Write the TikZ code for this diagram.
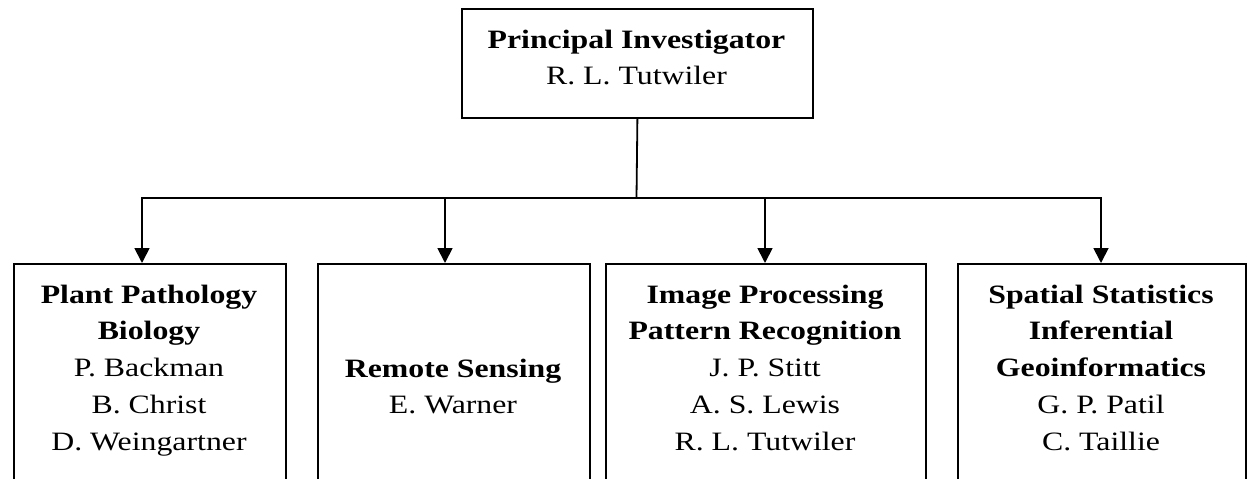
\documentclass[tikz,border=0pt]{standalone}
\usepackage{fontspec}
\setmainfont{Liberation Serif}[FakeStretch=1.2]
\usetikzlibrary{arrows.meta}
\begin{document}
\begin{tikzpicture}[x=1pt,y=-1pt,
  box/.style={draw, line width=1.8pt, rectangle, inner sep=0pt, anchor=north west},
  lbl/.style={anchor=base, inner sep=0pt, font=\fontsize{26.5}{36.8}\selectfont},
  conn/.style={line width=1.8pt},
  tip/.tip={Triangle[width=15pt,length=15pt]},
  arr/.style={conn, -tip}]
\useasboundingbox (0,0) rectangle (1248,479);
\clip (0,0) rectangle (1248,479);
% boxes
\node[box, minimum width=351pt, minimum height=109pt] (pi) at (461,8) {};
\node[box, minimum width=272pt, minimum height=240pt] (b1) at (13,263) {};
\node[box, minimum width=272pt, minimum height=240pt] (b2) at (317,263) {};
\node[box, minimum width=320pt, minimum height=240pt] (b3) at (605,263) {};
\node[box, minimum width=288pt, minimum height=240pt] (b4) at (957,263) {};
% texts
\node[lbl] (t0) at (636.5,48) {\begin{tabular}[t]{@{}c@{}}\textbf{Principal Investigator}\\ R. L. Tutwiler\end{tabular}};
\node[lbl] (t1) at (149,303) {\begin{tabular}[t]{@{}c@{}}\textbf{Plant Pathology}\\ \textbf{Biology}\\ P. Backman\\ B. Christ\\ D. Weingartner\end{tabular}};
\node[lbl] (t2) at (453,377) {\begin{tabular}[t]{@{}c@{}}\textbf{Remote Sensing}\\ E. Warner\end{tabular}};
\node[lbl] (t3) at (765,303) {\begin{tabular}[t]{@{}c@{}}\textbf{Image Processing}\\ \textbf{Pattern Recognition}\\ J. P. Stitt\\ A. S. Lewis\\ R. L. Tutwiler\end{tabular}};
\node[lbl] (t4) at (1101,303) {\begin{tabular}[t]{@{}c@{}}\textbf{Spatial Statistics}\\ \textbf{Inferential}\\ \textbf{Geoinformatics}\\ G. P. Patil\\ C. Taillie\end{tabular}};
% connectors
\coordinate (j) at (636.5,198);
\coordinate (a1) at (142,198);
\coordinate (a2) at (445,198);
\coordinate (a3) at (765,198);
\coordinate (a4) at (1101,198);
\draw[conn] (pi.south) -- (j);
\draw[conn, tip-tip] (a1 |- b1.north) -- (a1) -- (a4) -- (a4 |- b4.north);
\draw[arr] (a2) -- (a2 |- b2.north);
\draw[arr] (a3) -- (a3 |- b3.north);
\end{tikzpicture}
\end{document}
